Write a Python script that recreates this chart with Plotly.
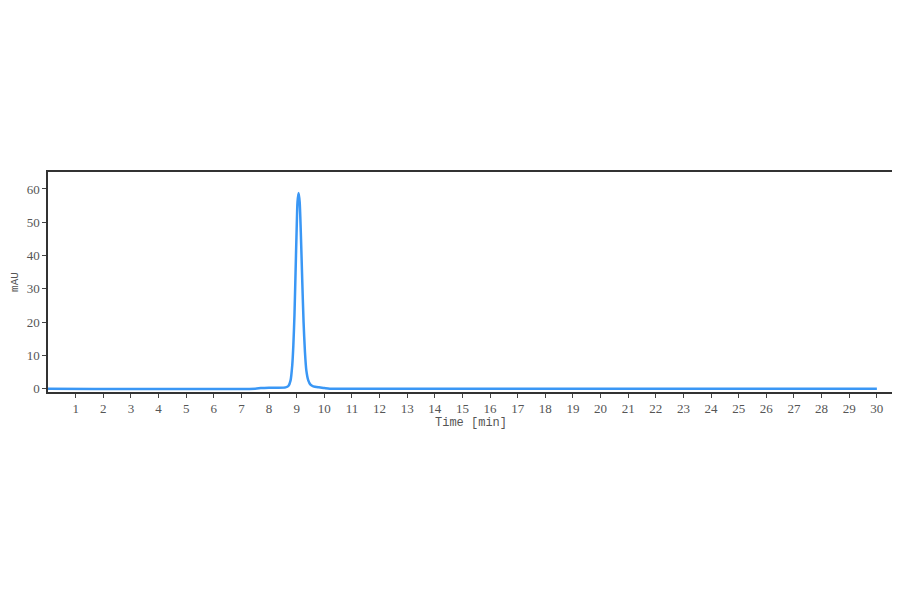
import plotly.graph_objects as go

# Chromatogram trace
temps = [0, 7.5, 7.7, 8.0, 8.3, 8.6, 8.7, 8.78, 8.84, 8.88, 8.92, 8.96, 9.0, 9.03,
         9.07, 9.11, 9.15, 9.2, 9.25, 9.3, 9.35, 9.42, 9.5, 9.6, 9.8, 10.0, 10.2, 30]
absorbance = [0, 0, 0.2, 0.3, 0.3, 0.4, 0.8, 2.5, 7, 13, 22, 35, 48, 56,
              58.8, 56, 47, 33, 20, 11, 5.5, 2.5, 1.2, 0.7, 0.4, 0.2, 0, 0]

x_ticks = list(range(1, 31))
y_ticks = [0, 10, 20, 30, 40, 50, 60]

fig = go.Figure()
fig.add_trace(go.Scatter(
    x=temps, y=absorbance, mode='lines',
    line=dict(color='#3a97f5', width=2.5, shape='spline', smoothing=0.6),
    hoverinfo='skip'
))

# the page body adds an 8px offset, so the figure is a bit smaller
fig.update_layout(
    width=892, height=578,
    margin=dict(l=40, r=6, t=164, b=194, autoexpand=False),
    paper_bgcolor='white', plot_bgcolor='white',
    showlegend=False,
    font=dict(family='Liberation Serif', size=13, color='#555555'),
)
fig.update_xaxes(
    range=[0, 30.62], tickvals=x_ticks, ticks='outside', ticklen=4, tickcolor='#444444',
    showgrid=False, zeroline=False, showline=True, linecolor='#333333', linewidth=1.5,
    mirror=True, automargin=False,
    title=dict(text='Time [min]', font=dict(family='Liberation Mono', size=12, color='#555555'),
               standoff=2),
)
fig.update_yaxes(
    range=[-1.0, 65.1], tickvals=y_ticks, ticks='outside', ticklen=4, tickcolor='#444444',
    showgrid=False, zeroline=False, showline=True, linecolor='#333333', linewidth=1.5,
    mirror=True, automargin=False,
    title=dict(text='mAU', font=dict(family='Liberation Mono', size=11, color='#555555'),
               standoff=6),
)

fig.write_html('out.html')
